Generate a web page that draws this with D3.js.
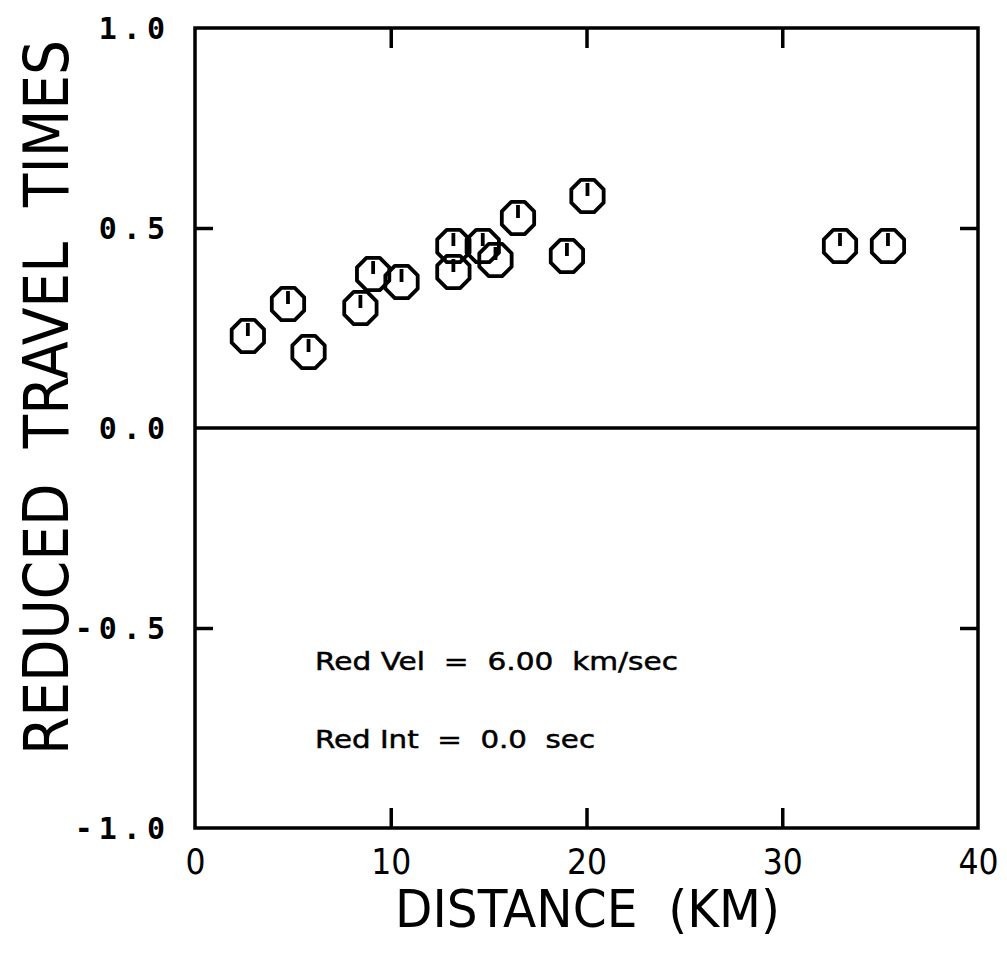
<!DOCTYPE html>
<html>
<head>
<meta charset="utf-8">
<title>Reduced travel times</title>
<script src="https://cdn.jsdelivr.net/npm/d3@7"></script>
<style>
  html, body { margin: 0; padding: 0; background: #fff; }
  svg { display: block; }
  svg text { white-space: pre; }
  .ylab text { font-family: "DejaVu Sans Mono", monospace; font-weight: bold; font-size: 30px; letter-spacing: 6px; }
  .xlab text { font-family: "Liberation Sans Narrow", "DejaVu Sans Condensed", sans-serif; font-size: 35px; }
</style>
</head>
<body>
<div id="chart"></div>
<script>
// distance (km) and reduced travel time (s)
var distances = [2.7, 4.75, 5.8, 8.45, 9.1, 10.55, 13.2, 13.2, 14.7, 15.35, 16.5, 19.0, 20.05, 32.95, 35.4];
var times     = [0.23, 0.31, 0.19, 0.30, 0.385, 0.365, 0.455, 0.39, 0.455, 0.42, 0.525, 0.43, 0.58, 0.455, 0.455];

var xTicks = [0, 10, 20, 30, 40];
var yTicks = [-1.0, -0.5, 0.0, 0.5, 1.0];
var xTitle = "DISTANCE  (KM)";
var yTitle = "REDUCED  TRAVEL  TIMES";
var notes = ["Red Vel  =  6.00  km/sec", "Red Int  =  0.0  sec"];

var W = 1007, H = 954;
var pL = 195, pR = 978, pT = 28, pB = 828;

var svg = d3.select("#chart").append("svg")
  .attr("width", W).attr("height", H);

var x = d3.scaleLinear().domain([0, 40]).range([pL, pR]);
var y = d3.scaleLinear().domain([-1, 1]).range([pB, pT]);

// frame
svg.append("rect")
  .attr("x", pL).attr("y", pT)
  .attr("width", pR - pL).attr("height", pB - pT)
  .attr("fill", "none").attr("stroke", "#000").attr("stroke-width", 3.5);

// zero line
svg.append("line")
  .attr("x1", pL).attr("x2", pR)
  .attr("y1", y(0)).attr("y2", y(0))
  .attr("stroke", "#000").attr("stroke-width", 3.5);

// inner ticks
var tickStyle = function(g) {
  g.select(".domain").remove();
  g.selectAll(".tick line").attr("stroke", "#000").attr("stroke-width", 3.5);
};
svg.append("g").attr("transform", "translate(0," + pB + ")")
  .call(d3.axisBottom(x).tickValues([10, 20, 30]).tickSize(-20).tickFormat(""))
  .call(tickStyle);
svg.append("g").attr("transform", "translate(0," + pT + ")")
  .call(d3.axisTop(x).tickValues([10, 20, 30]).tickSize(-20).tickFormat(""))
  .call(tickStyle);
svg.append("g").attr("transform", "translate(" + pL + ",0)")
  .call(d3.axisLeft(y).tickValues([-0.5, 0.5]).tickSize(-18).tickFormat(""))
  .call(tickStyle);
svg.append("g").attr("transform", "translate(" + pR + ",0)")
  .call(d3.axisRight(y).tickValues([-0.5, 0.5]).tickSize(-18).tickFormat(""))
  .call(tickStyle);

// tick labels
var xl = svg.append("g").attr("class", "xlab")
  .attr("transform", "translate(0," + pB + ")")
  .call(d3.axisBottom(x).tickValues(xTicks).tickSize(0).tickPadding(0)
    .tickFormat(d3.format("d")));
xl.select(".domain").remove();
xl.selectAll("text").attr("dy", null).attr("y", 46).attr("fill", "#000");

var yl = svg.append("g").attr("class", "ylab")
  .attr("transform", "translate(" + pL + ",0)")
  .call(d3.axisLeft(y).tickValues(yTicks).tickSize(0).tickPadding(24)
    .tickFormat(function(d) { return d3.format(".1f")(d).replace("\u2212", "-"); }));
yl.select(".domain").remove();
yl.selectAll("text").attr("dy", "0.36em").attr("fill", "#000");

// axis titles
svg.append("text")
  .attr("x", 395).attr("y", 927)
  .attr("textLength", 385).attr("lengthAdjust", "spacingAndGlyphs")
  .style("font-family", "'Liberation Sans Narrow', 'DejaVu Sans Condensed', sans-serif")
  .style("font-size", "52px")
  .text(xTitle);

svg.append("text")
  .attr("transform", "translate(68,755) rotate(-90)")
  .attr("textLength", 715).attr("lengthAdjust", "spacingAndGlyphs")
  .style("font-family", "'Liberation Sans Narrow', 'DejaVu Sans Condensed', sans-serif")
  .style("font-size", "63px")
  .text(yTitle);

// annotation
var noteLen = [363, 280];
svg.selectAll("text.note").data(notes).enter().append("text")
  .attr("class", "note")
  .attr("x", 315)
  .attr("y", function(d, i) { return 670 + i * 78; })
  .attr("textLength", function(d, i) { return noteLen[i]; })
  .attr("lengthAdjust", "spacingAndGlyphs")
  .style("font-family", "'DejaVu Sans', sans-serif")
  .style("font-size", "25px")
  .style("stroke", "#000").style("stroke-width", 0.5)
  .text(function(d) { return d; });

// octagon markers with a short stem
var r = 17.5;
var octagon = d3.range(8).map(function(k) {
  var a = Math.PI / 8 + k * Math.PI / 4;
  return [r * Math.cos(a), r * Math.sin(a)];
});
var pts = distances.map(function(d, i) { return { d: d, t: times[i] }; });
var marks = svg.selectAll("g.pt").data(pts).enter().append("g")
  .attr("class", "pt")
  .attr("transform", function(p) { return "translate(" + x(p.d) + "," + y(p.t) + ")"; });
marks.append("path")
  .attr("d", d3.line()(octagon) + "Z")
  .attr("fill", "none").attr("stroke", "#000").attr("stroke-width", 3.8)
  .attr("stroke-linejoin", "round");
marks.append("line")
  .attr("x1", 0).attr("x2", 0).attr("y1", -13).attr("y2", 0)
  .attr("stroke", "#000").attr("stroke-width", 3.8);
</script>
</body>
</html>
